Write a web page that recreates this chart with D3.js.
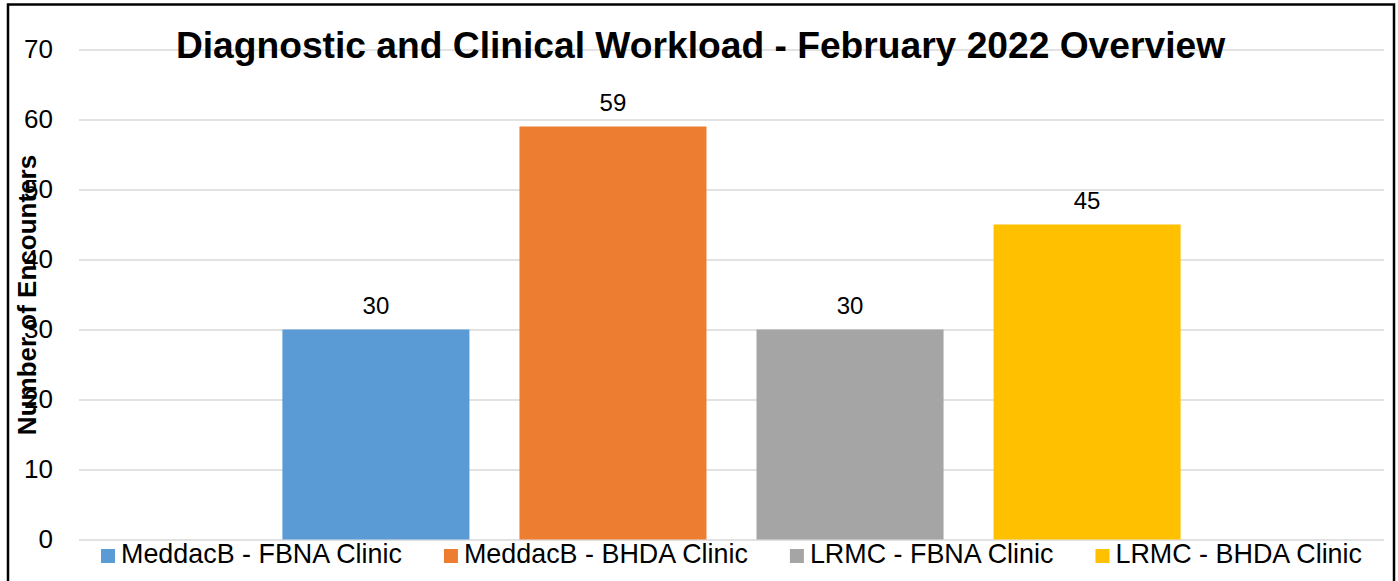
<!DOCTYPE html>
<html>
<head>
<meta charset="utf-8">
<script src="https://cdn.jsdelivr.net/npm/d3@7"></script>
<style>
  html, body { margin: 0; padding: 0; background: #fff; }
  svg { display: block; font-family: Arial, "Liberation Sans", sans-serif; }
</style>
</head>
<body>
<div id="chart"></div>
<script>
const categories = ['February 2022'];
const series = ['MeddacB - FBNA Clinic', 'MeddacB - BHDA Clinic', 'LRMC - FBNA Clinic', 'LRMC - BHDA Clinic'];
const values = [30, 59, 30, 45];
const colors = ['#5B9BD5', '#ED7D31', '#A5A5A5', '#FFC000'];
const yTicks = [0, 10, 20, 30, 40, 50, 60, 70];

let w = 1398;
let h = 581;
let plotLeft = 79, plotRight = 1384, plotTop = 49.5, plotBottom = 539.5;

let svg = d3.select('#chart').
append('svg').
attr('width', w).
attr('height', h);

// frame
svg.append('rect').
attr('x', 8).
attr('y', 4.5).
attr('width', 1386).
attr('height', 600).
attr('fill', 'none').
attr('stroke', '#000').
attr('stroke-width', 2.5);

let yScale = d3.scaleLinear().
domain([0, 70]).
range([plotBottom, plotTop]);

let x0 = d3.scaleBand().
domain(categories).
range([plotLeft, plotRight]);

let x1 = d3.scaleBand().
domain(series).
range([0, x0.bandwidth()]).
paddingInner(0.211).
paddingOuter(0.858);

// grid
let yAxis = d3.axisLeft(yScale).
tickValues(yTicks).
tickSize(-(plotRight - plotLeft)).
tickPadding(26);

let gy = svg.append('g').
attr('transform', 'translate(' + plotLeft + ',0)').
call(yAxis);
gy.select('.domain').remove();
gy.selectAll('.tick line').
attr('stroke', '#D9D9D9').
attr('stroke-width', 1.6);
gy.selectAll('.tick text').
attr('fill', '#000').
style('font-size', '26px');

// title
svg.append('text').
text('Diagnostic and Clinical Workload - February 2022 Overview').
attr('x', 700.5).
attr('y', 58).
attr('text-anchor', 'middle').
style('font-size', '37.2px').
style('font-weight', 'bold');

// y title
svg.append('text').
text('Number of Encounters').
attr('transform', 'translate(36,295) rotate(-90)').
attr('text-anchor', 'middle').
style('font-size', '26px').
style('font-weight', 'bold');

// bars
let g = svg.append('g').
attr('transform', 'translate(' + x0(categories[0]) + ',0)');

g.selectAll('rect').
data(values).
enter().
append('rect').
attr('x', (d, i) => x1(series[i])).
attr('y', d => yScale(d)).
attr('width', x1.bandwidth()).
attr('height', d => yScale(0) - yScale(d)).
attr('fill', (d, i) => colors[i]);

g.selectAll('.lbl').
data(values).
enter().
append('text').
attr('class', 'lbl').
attr('x', (d, i) => x1(series[i]) + x1.bandwidth() / 2).
attr('y', d => yScale(d) - 16).
attr('text-anchor', 'middle').
style('font-size', '24px').
text(d => d);

// legend
let legend = svg.append('g');
let items = legend.selectAll('g').
data(series).
enter().
append('g');
items.append('rect').
attr('width', 14).
attr('height', 14).
attr('y', 549).
attr('fill', (d, i) => colors[i]);
items.append('text').
attr('x', 20).
attr('y', 563).
style('font-size', '26.9px').
text(d => d);

let xPos = 0;
let widths = [];
items.each(function () {
  let tw = d3.select(this).select('text').node().getComputedTextLength();
  widths.push(20 + tw);
});
let total = d3.sum(widths) + 42 * (widths.length - 1);
xPos = (plotLeft + plotRight) / 2 - total / 2;
items.attr('transform', (d, i) => {
  let t = 'translate(' + xPos + ',0)';
  xPos += widths[i] + 42;
  return t;
});
</script>
</body>
</html>
